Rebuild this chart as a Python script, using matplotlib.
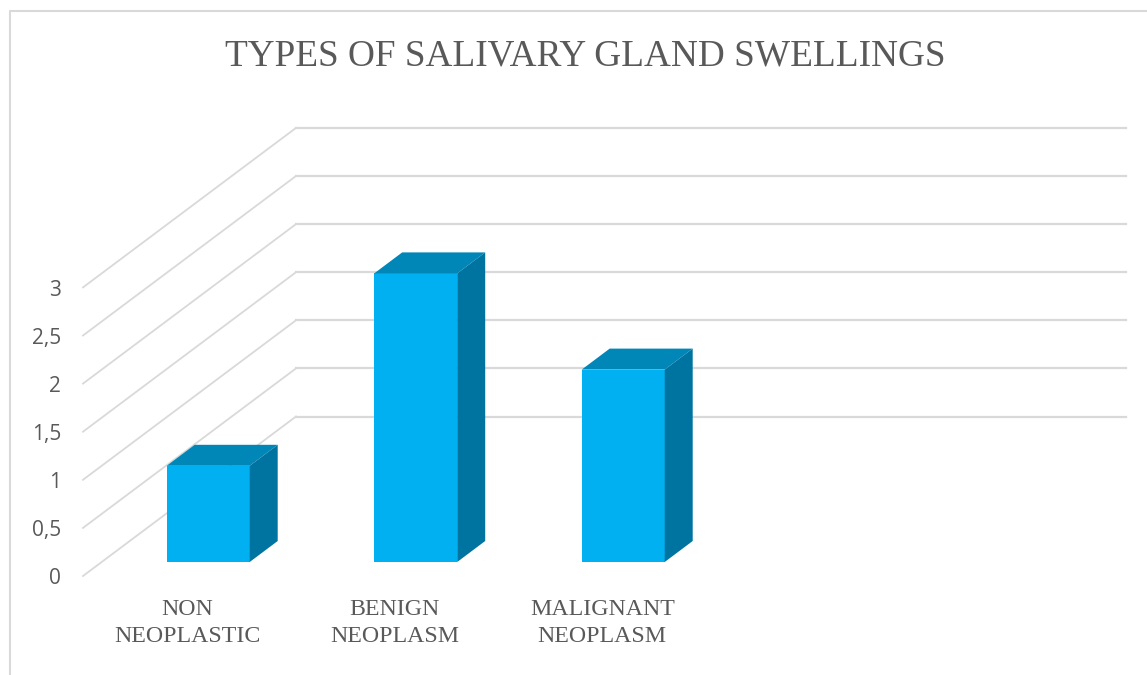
# salivary gland swellings - fake 3d column chart
import matplotlib
matplotlib.use("Agg")
import matplotlib.pyplot as plt
from matplotlib.patches import Polygon

categories = ["NON\nNEOPLASTIC", "BENIGN\nNEOPLASM", "MALIGNANT\nNEOPLASM"]
values = [1, 3, 2]
y_ticks = [0, 0.5, 1, 1.5, 2, 2.5, 3]
y_tick_labels = ["0", "0,5", "1", "1,5", "2", "2,5", "3"]

W, H = 1147, 675
X0, DX = 208.2, 207.5   # px of first bar centre, px between bars
Y0, DY = 576, 96.2      # px of value 0 on the front edge, px per unit
GRID = "#D9D9D9"
TEXT = "#595959"

fig = plt.figure(figsize=(W / 100, H / 100), dpi=100)
ax = fig.add_axes([0, 0, 1, 1])
ax.set_xlim((0 - X0) / DX, (W - X0) / DX)
ax.set_ylim((Y0 - H) / DY, Y0 / DY)
ax.axis("off")


def ux(px):
    return px / DX


def uy(px):
    return px / DY


# wall depth and bar depth
wall_dx, wall_dy = ux(213), uy(159.5)
bar_dx, bar_dy = ux(28), uy(21)
bar_w = ux(83)
bar_base = uy(14)
front_x = (83 - X0) / DX
end_x = (1126 - X0) / DX

# outer frame
ax.plot([(10 - X0) / DX, (10 - X0) / DX, (W - X0) / DX],
        [(Y0 - H) / DY, (Y0 - 11) / DY, (Y0 - 11) / DY], color=GRID, lw=1.5)

# side wall and back wall grid
for t, lab in zip(y_ticks, y_tick_labels):
    ax.plot([front_x, front_x + wall_dx], [t, t + wall_dy], color=GRID, lw=1.3)
    ax.plot([front_x + wall_dx, end_x], [t + wall_dy, t + wall_dy], color=GRID, lw=1.6)
    ax.text((61 - X0) / DX, t - uy(3), lab, ha="right", va="center", fontsize=15,
            family="Open Sans", color=TEXT)

# bars
for i, (cat, v) in enumerate(zip(categories, values)):
    l, r = i - bar_w / 2, i + bar_w / 2
    b, t = bar_base, bar_base + v
    ax.add_patch(Polygon([(l, b), (r, b), (r, t), (l, t)], color="#00B0F0", lw=0, zorder=3))
    ax.add_patch(Polygon([(l, t), (r, t), (r + bar_dx, t + bar_dy), (l + bar_dx, t + bar_dy)],
                         color="#0087B8", lw=0, zorder=3))
    ax.add_patch(Polygon([(r, b), (r + bar_dx, b + bar_dy), (r + bar_dx, t + bar_dy), (r, t)],
                         color="#0074A1", lw=0, zorder=3))
    ax.text(i - ux(21), -uy(47), cat, ha="center", va="center", fontsize=17.2,
            family="Liberation Serif", color=TEXT, linespacing=1.35)

ax.text(ux(585.5 - X0), uy(Y0 - 56), "TYPES OF SALIVARY GLAND SWELLINGS", ha="center", va="center",
        fontsize=26.8, family="Liberation Serif", color=TEXT)

fig.savefig("out.png", dpi=100)
plt.close(fig)
